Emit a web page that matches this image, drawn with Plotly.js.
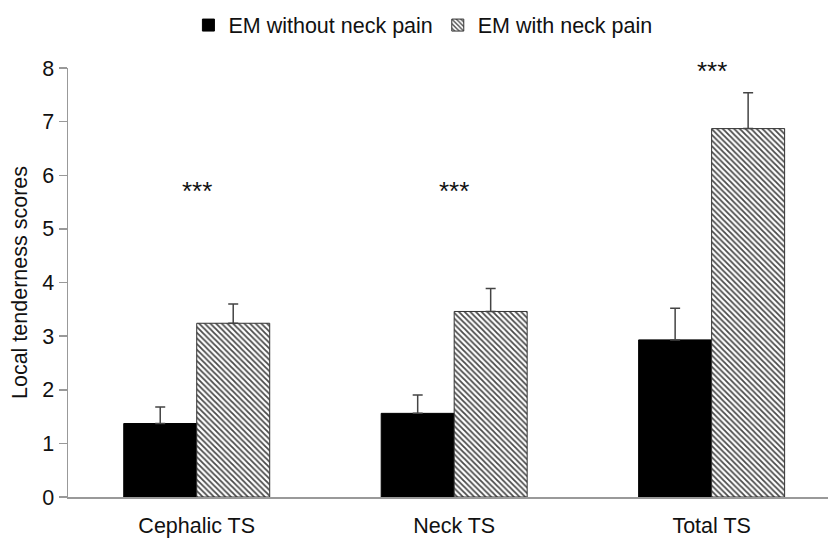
<!DOCTYPE html>
<html>
<head>
<meta charset="utf-8">
<script src="https://cdn.plot.ly/plotly-3.0.1.min.js"></script>
<style>html,body{margin:0;padding:0;background:#fff;}#chart{width:828px;height:538px;}</style>
</head>
<body>
<div id="chart"></div>
<script>
const categories = ["Cephalic TS", "Neck TS", "Total TS"];
const withoutPain = [1.37, 1.56, 2.93];
const withoutPainErr = [0.31, 0.34, 0.59];
const withPain = [3.24, 3.46, 6.87];
const withPainErr = [0.36, 0.43, 0.67];
const significance = ["***", "***", "***"];
const sigY = [5.70, 5.70, 7.95];

const FONT = "Liberation Sans, Arial, sans-serif";
const FS = 21.5;

const traces = [
  {
    type: "bar", name: "EM without neck pain", x: categories, y: withoutPain,
    marker: {color: "#000000", line: {color: "#000000", width: 1}},
    error_y: {type: "data", symmetric: false, array: withoutPainErr, arrayminus: withoutPainErr.map(() => 0),
              color: "#444444", thickness: 1.5, width: 5}
  },
  {
    type: "bar", name: "EM with neck pain", x: categories, y: withPain,
    marker: {color: "#ffffff", line: {color: "#333333", width: 1},
             pattern: {shape: "\\", fgcolor: "#4a4a4a", bgcolor: "#ffffff", size: 4, solidity: 0.45}},
    error_y: {type: "data", symmetric: false, array: withPainErr, arrayminus: withPainErr.map(() => 0),
              color: "#444444", thickness: 1.5, width: 5}
  }
];

const annotations = categories.map((c, i) => ({
  x: c, y: sigY[i], xref: "x", yref: "y", text: significance[i], showarrow: false,
  font: {family: FONT, size: 26, color: "#111"}, xanchor: "center", yanchor: "middle"
}));

const layout = {
  width: 828, height: 538,
  margin: {l: 68, r: 0, t: 68, b: 41},
  paper_bgcolor: "#ffffff", plot_bgcolor: "#ffffff",
  font: {family: FONT, size: FS, color: "#222"},
  barmode: "group", bargap: 0.433, bargroupgap: 0,
  showlegend: true,
  legend: {orientation: "h", x: 0.467, xanchor: "center", y: 1.1, yanchor: "middle",
           font: {family: FONT, size: FS, color: "#111"}, itemwidth: 30, traceorder: "normal"},
  xaxis: {range: [-0.5, 2.452], showline: true, linecolor: "#999", linewidth: 1.5, ticks: "",
          ticklabelstandoff: 9,
          showgrid: false, zeroline: false, tickfont: {family: FONT, size: FS, color: "#111"}},
  yaxis: {range: [0, 8], dtick: 1, showline: true, linecolor: "#999", linewidth: 1.5, ticks: "outside",
          ticklen: 8, tickcolor: "#999", tickwidth: 1.5, showgrid: false, zeroline: false,
          tickfont: {family: FONT, size: FS, color: "#111"},
          title: {text: "Local tenderness scores", font: {family: FONT, size: FS, color: "#111"}, standoff: 8}},
  annotations: annotations
};

Plotly.newPlot("chart", traces, layout, {displayModeBar: false, staticPlot: true});
</script>
</body>
</html>
